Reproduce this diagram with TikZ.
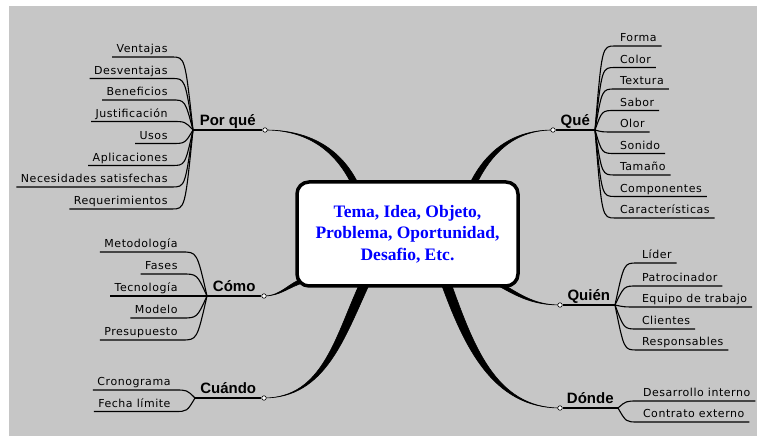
\documentclass[tikz,border=0pt]{standalone}
\usepackage{fontspec}
\newfontfamily\itemfont[LetterSpace=5]{DejaVu Sans}
\newfontfamily\branchfont{Liberation Sans}
\newfontfamily\topicfont{Liberation Serif}
\usetikzlibrary{calc}
\definecolor{mapgray}{RGB}{198,198,198}
\definecolor{topicblue}{RGB}{0,0,255}
\pgfdeclarelayer{backdrop}
\pgfdeclarelayer{background}
\pgfsetlayers{backdrop,background,main}

\begin{document}
\begin{tikzpicture}[x=1pt,y=1pt]
\tikzstyle{topic}=[rectangle,draw=black,line width=3.5pt,rounded corners=12pt,fill=white,minimum width=221pt,minimum height=104pt,align=center,text=topicblue,font=\topicfont\bfseries\fontsize{17.5}{21.5}\selectfont]
\tikzstyle{branch}=[anchor=base,yshift=4.5pt,inner sep=0pt,font=\branchfont\bfseries\fontsize{15}{18}\selectfont]
\tikzstyle{dot}=[circle,draw=black,fill=white,line width=0.6pt,inner sep=0pt,minimum size=4.5pt]
\tikzstyle{lefttip}=[anchor=south east,inner xsep=4.5pt,inner ysep=4pt,outer sep=0pt,text depth=0pt,font=\itemfont\fontsize{11}{13}\selectfont]
\tikzstyle{righttip}=[lefttip,anchor=south west,inner xsep=5pt]
\tikzstyle{stem}=[line width=1.4pt]
\tikzstyle{twig}=[line width=1.1pt]
\tikzstyle{limb}=[fill=black,draw=black,line width=0.6pt]

\useasboundingbox (0,0) rectangle (758,438);
\begin{pgfonlayer}{backdrop}
\fill[mapgray] (9,2) rectangle (757,432);
\end{pgfonlayer}

% central topic
\node[topic] (box) at (407.5,204) {Tema, Idea, Objeto,\\Problema, Oportunidad,\\Desafio, Etc.};

% hubs and dots
\coordinate (pqhub) at (193,308);
\coordinate (quhub) at (595,308);
\coordinate (cohub) at (207,142);
\coordinate (cuhub) at (195,40);
\coordinate (qnhub) at (615,133);
\coordinate (dohub) at (618,30);
\node[dot] (pqdot) at (265,308) {};
\node[dot] (qudot) at (553,308) {};
\node[dot] (codot) at (264,142) {};
\node[dot] (cudot) at (264,40) {};
\node[dot] (qndot) at (560,133) {};
\node[dot] (dodot) at (560,30) {};

\draw[stem] (pqhub) -- (pqdot) node[branch,midway] (pqlabel) {Por qué};
\draw[stem] (quhub) -- (qudot) node[branch,midway] (qulabel) {Qué};
\draw[stem] (cohub) -- (codot) node[branch,midway] (colabel) {Cómo};
\draw[stem] (cuhub) -- (cudot) node[branch,midway] (culabel) {Cuándo};
\draw[stem] (qnhub) -- (qndot) node[branch,midway] (qnlabel) {Quién};
\draw[stem] (dohub) -- (dodot) node[branch,midway] (dolabel) {Dónde};

% tapered limbs from the topic
\begin{pgfonlayer}{background}
\filldraw[limb] ([shift={(-55,-6)}]box.north) to[out=115,in=0] (pqdot.center) to[out=0,in=115] ([shift={(-48,-6)}]box.north) -- cycle;
\filldraw[limb] ([shift={(61,-6)}]box.north) to[out=65,in=180] (qudot.center) to[out=180,in=65] ([shift={(68,-6)}]box.north) -- cycle;
\filldraw[limb] ([shift={(10,10)}]box.south west) to[out=195,in=0] (codot.center) to[out=0,in=195] ([shift={(10,5.5)}]box.south west) -- cycle;
\filldraw[limb] ([shift={(-47,6)}]box.south) to[out=-115,in=0] (cudot.center) to[out=0,in=-115] ([shift={(-37,6)}]box.south) -- cycle;
\filldraw[limb] ([shift={(-25,8.5)}]box.south east) to[out=-30,in=180] (qndot.center) to[out=180,in=-30] ([shift={(-25,4)}]box.south east) -- cycle;
\filldraw[limb] ([shift={(33,6)}]box.south) to[out=-70,in=180] (dodot.center) to[out=180,in=-70] ([shift={(43,6)}]box.south) -- cycle;
\end{pgfonlayer}

% Por que
\node[lefttip] (pq1) at (172,381) {Ventajas};
\node[lefttip] (pq2) at (172,359.5) {Desventajas};
\node[lefttip] (pq3) at (172,338) {Beneficios};
\node[lefttip] (pq4) at (172,316.5) {Justificación};
\node[lefttip] (pq5) at (172,294.5) {Usos};
\node[lefttip] (pq6) at (172,272.5) {Aplicaciones};
\node[lefttip] (pq7) at (172,251) {Necesidades satisfechas};
\node[lefttip] (pq8) at (172,229) {Requerimientos};
\foreach \i in {1,...,8}
  \draw[twig] (pq\i.south west) -- (pq\i.south east) .. controls +(13,0) .. (pqhub);

% Que
\node[righttip] (qu1) at (615,392) {Forma};
\node[righttip] (qu2) at (615,370.5) {Color};
\node[righttip] (qu3) at (615,349) {Textura};
\node[righttip] (qu4) at (615,327.5) {Sabor};
\node[righttip] (qu5) at (615,306) {Olor};
\node[righttip] (qu6) at (615,284.5) {Sonido};
\node[righttip] (qu7) at (615,263) {Tamaño};
\node[righttip] (qu8) at (615,241.5) {Componentes};
\node[righttip] (qu9) at (615,220) {Características};
\foreach \i in {1,...,9}
  \draw[twig] (qu\i.south east) -- (qu\i.south west) .. controls +(-13,0) .. (quhub);

% Como
\node[lefttip] (co1) at (182,186) {Metodología};
\node[lefttip] (co2) at (182,164) {Fases};
\node[lefttip] (co3) at (182,142) {Tecnología};
\node[lefttip] (co4) at (182,120) {Modelo};
\node[lefttip] (co5) at (182,98) {Presupuesto};
\foreach \i in {1,...,5}
  \draw[twig] (co\i.south west) -- (co\i.south east) .. controls +(15,0) .. (cohub);

% Cuando
\node[lefttip] (cu1) at (175,48) {Cronograma};
\node[lefttip] (cu2) at (175,26.5) {Fecha límite};
\foreach \i in {1,2}
  \draw[twig] (cu\i.south west) -- (cu\i.south east) .. controls +(12,0) .. (cuhub);

% Quien
\node[righttip] (qn1) at (637,175) {Líder};
\node[righttip] (qn2) at (637,152) {Patrocinador};
\node[righttip] (qn3) at (637,131) {Equipo de trabajo};
\node[righttip] (qn4) at (637,109) {Clientes};
\node[righttip] (qn5) at (637,88) {Responsables};
\foreach \i in {1,...,5}
  \draw[twig] (qn\i.south east) -- (qn\i.south west) .. controls +(-13,0) .. (qnhub);

% Donde
\node[righttip] (do1) at (638,37) {Desarrollo interno};
\node[righttip] (do2) at (638,16) {Contrato externo};
\foreach \i in {1,2}
  \draw[twig] (do\i.south east) -- (do\i.south west) .. controls +(-12,0) .. (dohub);
\end{tikzpicture}
\end{document}
